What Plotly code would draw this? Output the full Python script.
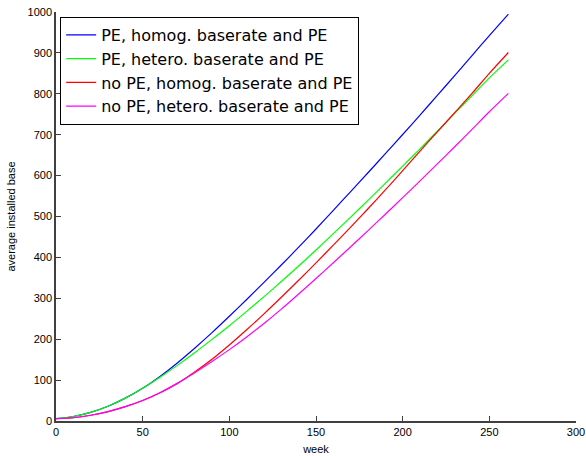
import plotly.graph_objects as go

weeks = [0, 10, 20, 30, 40, 50, 60, 70, 80, 90, 100, 110, 120, 130, 140,
         150, 160, 170, 180, 190, 200, 210, 220, 230, 240, 250, 261]

pe_homog = [6, 11, 21, 36, 56, 80, 109, 142, 178, 216, 256, 297, 339, 381.5, 425,
            469.5, 515, 561, 607, 653.5, 700.5, 748, 796, 844.5, 893.5, 942.5, 995]
pe_hetero = [6, 11, 21, 36, 56, 80, 107, 136, 167, 199.5, 233, 268, 304, 341, 379,
             418, 458, 498.5, 539.5, 581, 623, 665.5, 708.5, 752, 795.5, 839, 883]
nope_homog = [6, 8, 14, 23, 35, 50, 69, 92, 120, 151, 186, 223, 262, 302.5, 344,
              386.5, 430, 474, 519, 565, 612, 660, 707, 754, 801, 850, 901]
nope_hetero = [6, 8, 14, 23, 35, 50, 69, 92, 118, 145.5, 174.5, 205.5, 238.5, 273.5, 310.5,
               348.5, 387, 426, 465.5, 505.5, 546, 587, 628.5, 670.5, 713, 756, 801]

names = ["PE, homog. baserate and PE", "PE, hetero. baserate and PE",
         "no PE, homog. baserate and PE", "no PE, hetero. baserate and PE"]
colors = ["#0000ff", "#00ff00", "#ff0000", "#ff00ff"]
series = [pe_homog, pe_hetero, nope_homog, nope_hetero]

x_ticks = [0, 50, 100, 150, 200, 250, 300]
y_ticks = [0, 100, 200, 300, 400, 500, 600, 700, 800, 900, 1000]

fig = go.Figure()
for n, c, s in zip(names, colors, series):
    fig.add_trace(go.Scatter(x=weeks, y=s, mode="lines", name=n,
                             line=dict(color=c, width=1.2, shape="spline", smoothing=0.8)))

axis_common = dict(showgrid=False, zeroline=False, showline=True, automargin=False,
                   linecolor="#404040", linewidth=1.5, ticks="inside",
                   ticklen=5, tickcolor="#404040", tickwidth=1,
                   tickfont=dict(family="Liberation Sans, Arial", size=11, color="black"))

fig.update_layout(
    width=586, height=456,
    margin=dict(l=56, r=10, t=12, b=35),
    paper_bgcolor="white", plot_bgcolor="white",
    font=dict(family="Liberation Sans, Arial", color="black"),
    xaxis=dict(range=[0, 300], tickvals=x_ticks, **axis_common,
               title=dict(text="week", font=dict(size=11), standoff=8)),
    yaxis=dict(range=[0, 1000], tickvals=y_ticks, **axis_common,
               title=dict(text="average installed base", font=dict(size=11), standoff=10)),
    legend=dict(x=0.008, y=0.988, xanchor="left", yanchor="top",
                bgcolor="white", bordercolor="black", borderwidth=1,
                font=dict(family="DejaVu Sans", size=16, color="black"),
                tracegroupgap=0, itemwidth=30),
    showlegend=True,
)

fig.write_html("out.html")
